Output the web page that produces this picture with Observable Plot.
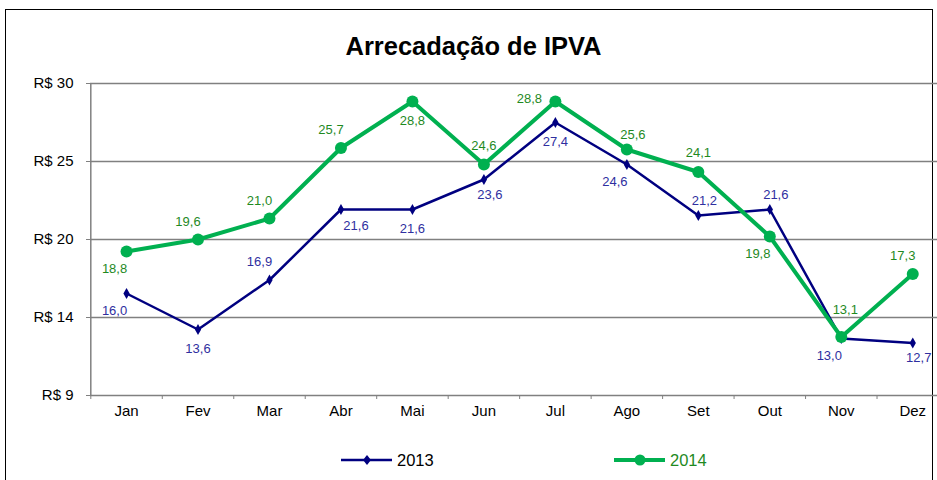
<!DOCTYPE html>
<html>
<head>
<meta charset="utf-8">
<script src="https://cdn.jsdelivr.net/npm/d3@7"></script>
<script src="https://cdn.jsdelivr.net/npm/@observablehq/plot@0.6"></script>
<style>
  html, body { margin: 0; padding: 0; background: #fff; }
  #wrap { position: relative; width: 937px; height: 480px; overflow: hidden; font-family: "Liberation Sans", Arial, sans-serif; }
  #frame { position: absolute; left: 5px; top: 9px; width: 926px; height: 480px; border-left: 1.5px solid #000; border-top: 1.5px solid #000; border-right: 1.5px solid #000; }
  #title { position: absolute; left: 5px; width: 937px; top: 31px; text-align: center; font-weight: bold; font-size: 25.5px; line-height: 30px; color: #000; }
  #chart { position: absolute; left: 0; top: 0; }
  .leg { position: absolute; top: 449px; height: 22px; display: flex; align-items: center; font-size: 16.5px; }
  .leg svg { display: block; margin-right: 4px; }
</style>
</head>
<body>
<div id="wrap">
  <div id="frame"></div>
  <div id="chart"></div>
  <div id="title">Arrecadação de IPVA</div>
  <div class="leg" id="leg2013" style="left:340px; color:#000;"></div>
  <div class="leg" id="leg2014" style="left:613px; color:#1f8a1f;"></div>
</div>
<script>
// ---- data ----
const months = ["Jan","Fev","Mar","Abr","Mai","Jun","Jul","Ago","Set","Out","Nov","Dez"];
const values2013 = [16.0, 13.6, 16.9, 21.6, 21.6, 23.6, 27.4, 24.6, 21.2, 21.6, 13.0, 12.7];
const values2014 = [18.8, 19.6, 21.0, 25.7, 28.8, 24.6, 28.8, 25.6, 24.1, 19.8, 13.1, 17.3];
const yTicks = [9.2, 14.4, 19.6, 24.8, 30];
const yTickLabels = ["R$ 9", "R$ 14", "R$ 20", "R$ 25", "R$ 30"];
const seriesNames = ["2013", "2014"];
// label placement per point
const place2013 = ["SW","S","NW","SEE","S","SE","S","SW","NE","NE","SW","SE"];
const place2014 = ["SW","NW","NW","NW","S","N","W","NE","N","SW","NN","NW"];

// ---- rendering ----
const offsets = {
  N: [0, -19], NN: [4, -27], S: [0, 19], NW: [-10, -18], SW: [-12, 17],
  SE: [6, 15], SEE: [15, 16], NE: [6, -15], W: [-26, -3]
};
const rows = months.map((m, i) => ({i, month: m, v2013: values2013[i], v2014: values2014[i]}));
const fmt = v => d3.format(".1f")(v).replace(".", ",");
const xc = d => d.i + 0.5;

const c2013 = "#000080", c2014 = "#00b050";
const l2013 = "#2f2fa0", l2014 = "#1f8a1f";

function labelMarks(key, places, fill) {
  return Object.keys(offsets).map(p => Plot.text(rows.filter(d => places[d.i] === p), {
    x: xc, y: key, text: d => fmt(d[key]), dx: offsets[p][0], dy: offsets[p][1],
    fill, fontSize: 13, textAnchor: "middle", lineAnchor: "middle"
  }));
}

const chart = Plot.plot({
  width: 937, height: 480,
  marginTop: 83, marginBottom: 85, marginLeft: 90, marginRight: 0,
  x: {type: "linear", domain: [0, 12], range: [90.3, 948]},
  y: {domain: [9.2, 30], range: [395, 83]},
  style: {fontFamily: "'Liberation Sans', Arial, sans-serif", background: "transparent", color: "#000"},
  marks: [
    Plot.gridY(yTicks, {stroke: "#808080", strokeOpacity: 1, strokeWidth: 1.5}),
    Plot.ruleX([0], {stroke: "#808080", strokeWidth: 1.5}),
    Plot.axisY(yTicks, {tickFormat: d => yTickLabels[yTicks.indexOf(d)], tickSize: 4, tickPadding: 13, fontSize: 15, stroke: "#808080", label: null}),
    Plot.axisX(d3.range(0, 13), {tickFormat: () => "", tickSize: 4, stroke: "#808080", label: null}),
    Plot.axisX(months.map((m, i) => i + 0.5), {tickFormat: d => months[Math.floor(d)], tickSize: 0, tickPadding: 10, fontSize: 15, label: null}),
    Plot.line(rows, {x: xc, y: "v2013", stroke: c2013, strokeWidth: 2.5}),
    Plot.dot(rows, {x: xc, y: "v2013", symbol: "diamond", r: 3.3, fill: c2013, stroke: null}),
    Plot.line(rows, {x: xc, y: "v2014", stroke: c2014, strokeWidth: 4}),
    Plot.dot(rows, {x: xc, y: "v2014", r: 6, fill: c2014, stroke: null}),
    ...labelMarks("v2013", place2013, l2013),
    ...labelMarks("v2014", place2014, l2014)
  ]
});
document.getElementById("chart").appendChild(chart);

// legend
function legendSwatch(color, width, marker) {
  const shape = marker === "diamond"
    ? `<path d="M27,6 L31,11 L27,16 L23,11 Z" fill="${color}"/>`
    : `<circle cx="27" cy="11" r="5.5" fill="${color}"/>`;
  return `<svg width="53" height="22"><line x1="1" x2="52" y1="11" y2="11" stroke="${color}" stroke-width="${width}"/>${shape}</svg>`;
}
document.getElementById("leg2013").innerHTML = legendSwatch(c2013, 2.5, "diamond") + `<span>${seriesNames[0]}</span>`;
document.getElementById("leg2014").innerHTML = legendSwatch(c2014, 4, "circle") + `<span>${seriesNames[1]}</span>`;
</script>
</body>
</html>
